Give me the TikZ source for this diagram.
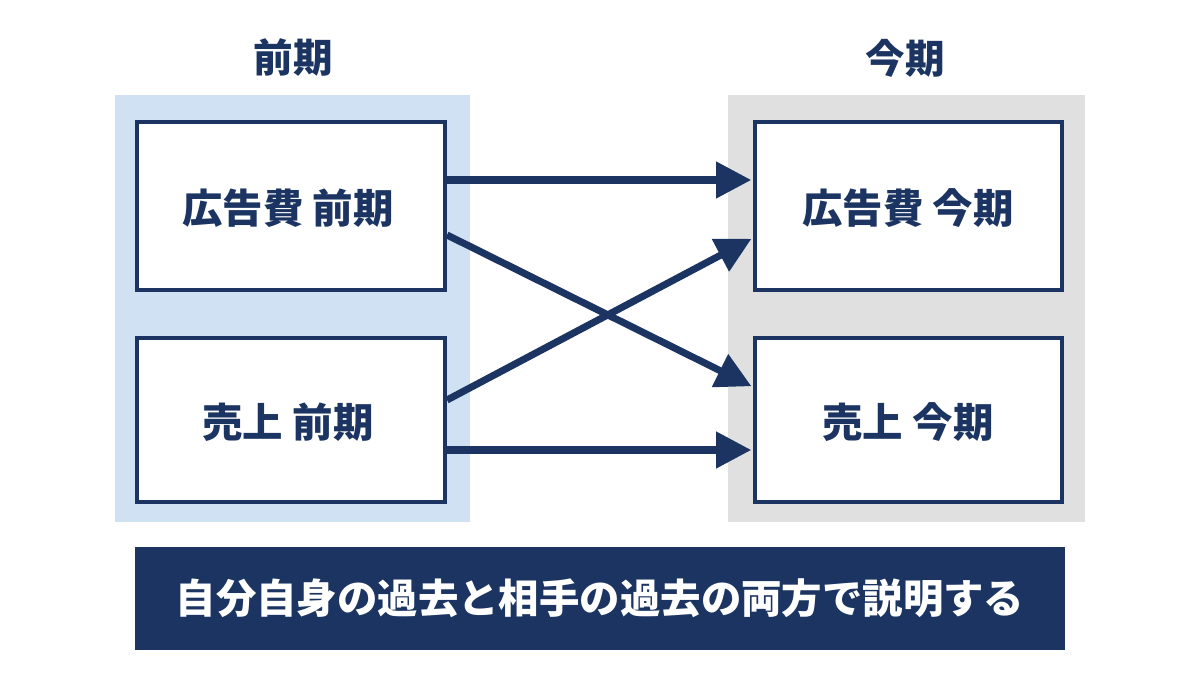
\documentclass[tikz,border=0pt]{standalone}
\usepackage{fontspec}
\setmainfont{Noto Sans CJK JP}
\usetikzlibrary{arrows.meta}
\definecolor{navy}{HTML}{1B3461}
\definecolor{lblue}{HTML}{D0E1F3}
\definecolor{lgray}{HTML}{E0E0E0}
\begin{document}
\begin{tikzpicture}[x=0.02cm,y=-0.02cm,
  box/.style={draw=navy,line width=2.2pt,fill=white},
  lbl/.style={font=\fontsize{23}{26}\bfseries\selectfont,text=navy},
  arr/.style={navy,line width=4pt,-{Triangle[length=20pt,width=20pt]},shorten >=1pt}]
\useasboundingbox (0,0) rectangle (1200,675);
\fill[white] (0,0) rectangle (1200,675);
\fill[lblue] (115,95) rectangle (470,522);
\fill[lgray] (728,95) rectangle (1085,522);
\node[lbl,font=\fontsize{22.5}{26}\bfseries\selectfont] (tl) at (293,58) {前期};
\node[lbl,font=\fontsize{22.5}{26}\bfseries\selectfont] (tr) at (905,58) {今期};
\draw[box] (137,122) rectangle (445,290);
\draw[box] (137,338) rectangle (445,502);
\draw[box] (755,122) rectangle (1062,290);
\draw[box] (755,338) rectangle (1062,502);
\node[lbl] (a1) at (288,208) {広告費 前期};
\node[lbl] (s1) at (288,422) {売上 前期};
\node[lbl] (a2) at (908,208) {広告費 今期};
\node[lbl] (s2) at (908,422) {売上 今期};
\coordinate (p1) at (447,180); \coordinate (q1) at (753,180);
\coordinate (p2) at (447,450); \coordinate (q2) at (753,450);
\coordinate (p3) at (447,235); \coordinate (q3) at (753,387);
\coordinate (p4) at (447,400); \coordinate (q4) at (753,238);
\draw[arr] (p1) -- (q1);
\draw[arr] (p2) -- (q2);
\draw[arr] (p3) -- (q3);
\draw[arr] (p4) -- (q4);
\fill[navy] (135,547) rectangle (1065,650);
\node[font=\fontsize{23}{26}\bfseries\selectfont,text=white] (b) at (600,598) {自分自身の過去と相手の過去の両方で説明する};
\end{tikzpicture}
\end{document}
